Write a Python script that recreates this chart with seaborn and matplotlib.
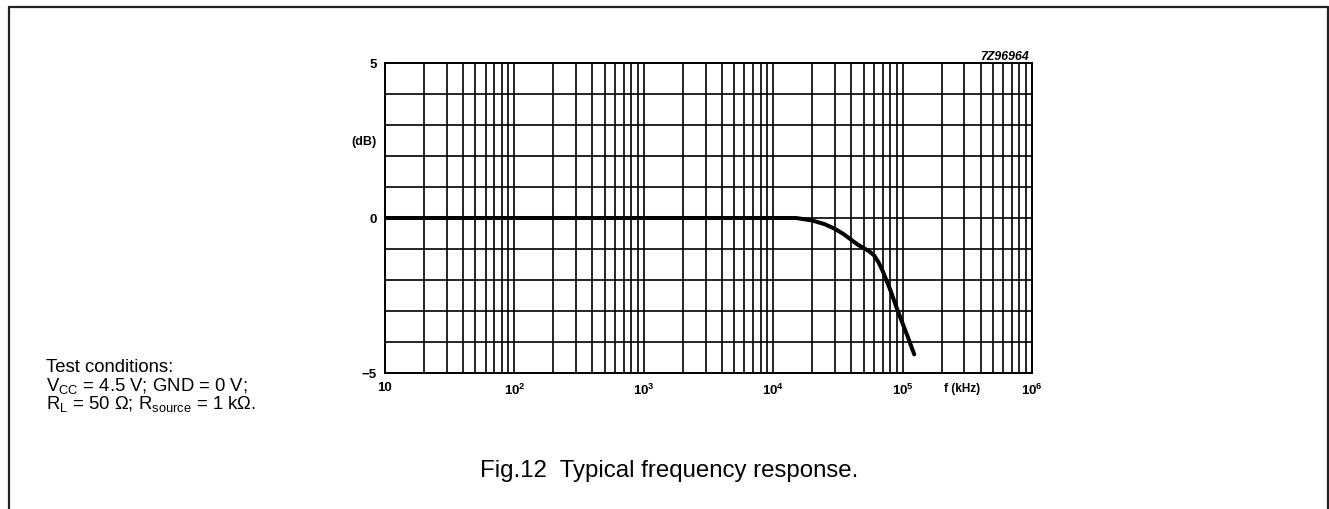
import numpy as np
import matplotlib
matplotlib.use("Agg")
import matplotlib.pyplot as plt
import seaborn as sns
from matplotlib.lines import Line2D
from matplotlib.ticker import FixedLocator, NullFormatter

# ---- data ----
freq_khz = [10, 1e4, 1.5e4, 2e4, 2.5e4, 3e4, 3.5e4, 4e4, 4.5e4, 5e4, 5.5e4,
            6e4, 6.5e4, 7e4, 8e4, 9e4, 1e5, 1.1e5, 1.23e5]
gain_db = [0, 0, 0, -0.08, -0.2, -0.35, -0.52, -0.7, -0.86, -0.97, -1.07,
           -1.2, -1.42, -1.7, -2.3, -2.9, -3.4, -3.85, -4.4]
x_tick_vals = [10, 1e2, 1e3, 1e4, 1e5, 1e6]
x_tick_labels = ["10", r"$\mathbf{10^{2}}$", r"$\mathbf{10^{3}}$",
                 r"$\mathbf{10^{4}}$", r"$\mathbf{10^{5}}$", r"$\mathbf{10^{6}}$"]
y_label_vals = [-5, 0, 5]
y_label_text = ["\u22125", "0", "5"]

sns.set_theme(style="white")
plt.rcParams["font.family"] = ["Liberation Sans", "DejaVu Sans"]
plt.rcParams["mathtext.fontset"] = "custom"
plt.rcParams["mathtext.rm"] = "Liberation Sans"
plt.rcParams["mathtext.it"] = "Liberation Sans:italic"
plt.rcParams["mathtext.bf"] = "Liberation Sans:bold"
for k in ["text.color", "axes.labelcolor", "xtick.color", "ytick.color",
          "xtick.labelcolor", "ytick.labelcolor"]:
    plt.rcParams[k] = "black"

W, H = 1329, 510
fig = plt.figure(figsize=(W / 100, H / 100), dpi=100)
fig.patch.set_facecolor("white")

def fx(px):
    return px / W

def fy(py):
    return 1 - py / H

ax = fig.add_axes([fx(385), fy(374), fx(1032) - fx(385), fy(64) - fy(374)])
ax.set_xscale("log")
ax.set_xlim(10, 1e6)
ax.set_ylim(-5, 5)

# grid
minor = [m * 10 ** d for d in range(1, 6) for m in range(2, 10)]
ax.xaxis.set_major_locator(FixedLocator(x_tick_vals))
ax.xaxis.set_minor_locator(FixedLocator(minor))
ax.xaxis.set_minor_formatter(NullFormatter())
ax.set_xticklabels(x_tick_labels)
ax.set_yticks(list(range(-5, 6)))
ax.set_yticklabels([y_label_text[y_label_vals.index(v)] if v in y_label_vals else ""
                    for v in range(-5, 6)])
ax.grid(which="both", axis="both", color="black", linewidth=1.2)
ax.set_axisbelow(True)
ax.tick_params(which="both", length=0)
ax.tick_params(axis="x", pad=6, labelsize=9.5, labelcolor="black")
ax.tick_params(axis="y", pad=6, labelsize=9.5, labelcolor="black")
for lab in ax.get_xticklabels() + ax.get_yticklabels():
    lab.set_fontweight("bold")
for s in ax.spines.values():
    s.set_color("black")
    s.set_linewidth(1.4)

sns.lineplot(x=freq_khz, y=gain_db, ax=ax, color="black", linewidth=2.9,
             sort=True, estimator=None)
ax.set_xlabel("")
ax.set_ylabel("")

# axis annotations
fig.text(fx(364), fy(142), "(dB)", ha="center", va="center",
         fontsize=9, fontweight="bold", color="black")
fig.text(fx(962), fy(389), "f (kHz)", ha="center", va="center",
         fontsize=8.5, fontweight="bold", color="black")
fig.text(fx(1029), fy(57), "7Z96964", ha="right", va="center",
         fontsize=8.8, fontweight="bold", fontstyle="italic", color="black")

# test conditions
fig.text(fx(46), fy(372), "Test conditions:", ha="left", va="baseline",
         fontsize=13.3, color="black")
fig.text(fx(46), fy(390.5), r"V$_{\rm CC}$ = 4.5 V; GND = 0 V;", ha="left",
         va="baseline", fontsize=13.3, color="black")
fig.text(fx(46), fy(409), "R$_{\\rm L}$ = 50 \u03a9; R$_{\\rm source}$ = 1 k\u03a9.",
         ha="left", va="baseline", fontsize=13.3, color="black")

# caption
fig.text(fx(669), fy(477), "Fig.12  Typical frequency response.", ha="center",
         va="baseline", fontsize=17.3, color="black")

# outer frame (left, top, right)
fig.add_artist(Line2D([fx(8.5), fx(8.5)], [0, fy(7.5)], color="#222222", lw=1.6,
                      transform=fig.transFigure))
fig.add_artist(Line2D([fx(8.5), fx(1327.5)], [fy(7.5), fy(7.5)], color="#222222",
                      lw=1.6, transform=fig.transFigure))
fig.add_artist(Line2D([fx(1327.5), fx(1327.5)], [fy(7.5), 0], color="#222222",
                      lw=1.6, transform=fig.transFigure))

fig.savefig("out.png", dpi=100, facecolor="white")
